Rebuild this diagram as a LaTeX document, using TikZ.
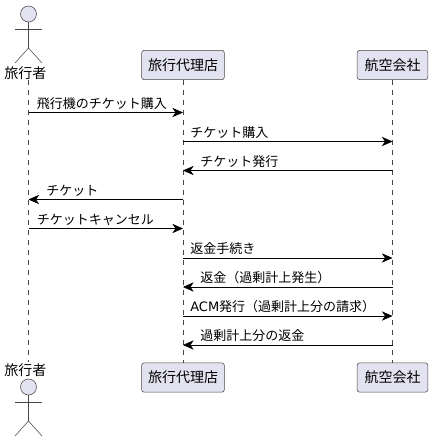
\documentclass[tikz,border=0pt]{standalone}
\usepackage{fontspec}
\setmainfont{Noto Sans CJK JP}
\newfontfamily\latinfont{DejaVu Sans}
\usetikzlibrary{calc, arrows.meta}

\definecolor{partfill}{HTML}{E2E2F0}
\definecolor{partline}{HTML}{181818}

\tikzset{
  lifeline/.style={draw=partline!80, line width=0.4pt, dash pattern=on 3.75pt off 3.75pt},
  partbox/.style={draw=partline!80, fill=partfill, line width=0.4pt, rounded corners=1.9pt,
    minimum width=62pt, minimum height=22pt, inner sep=0pt, font=\fontsize{10.5}{12}\selectfont},
  actorline/.style={draw=partline!80, line width=0.4pt},
  actorlabel/.style={inner sep=0pt, font=\fontsize{10.5}{12}\selectfont},
  msg/.style={draw=black, line width=0.5pt, -{Stealth[length=8pt, width=7pt, inset=2.4pt]}},
  msglabel/.style={inner sep=0pt, anchor=west, font=\fontsize{9.75}{12}\selectfont}
}

\begin{document}
\begin{tikzpicture}[x=0.75pt, y=-0.75pt]
  \useasboundingbox (0,0) rectangle (432,443);

  % partecipanti
  \node[actorlabel] (travelerT) at (25.5,73) {旅行者};
  \node[actorlabel] (travelerB) at (25.5,370) {旅行者};
  \node[partbox] (agencyT) at (183,65) {旅行代理店};
  \node[partbox] (agencyB) at (183,377.5) {旅行代理店};
  \node[partbox, minimum width=53pt] (airlineT) at (392.5,65) {航空会社};
  \node[partbox, minimum width=53pt] (airlineB) at (392.5,377.5) {航空会社};

  % linee di vita
  \coordinate (lifeT) at (28.5,80);
  \coordinate (lifeB) at (28.5,362);
  \draw[lifeline] (lifeT) -- (lifeB);
  \draw[lifeline] (agencyT) -- (agencyB);
  \draw[lifeline] (airlineT) -- (airlineB);

  % omini
  \foreach \name/\ytop in {top/6, bottom/379}{
    \coordinate (\name head) at (28.5,\ytop+8);
    \draw[actorline, fill=partfill] (\name head) circle (6pt);
    \draw[actorline] ($(\name head)+(0,8)$) -- ($(\name head)+(0,34)$);
    \draw[actorline] ($(\name head)+(-13.5,15.5)$) -- ($(\name head)+(13.5,15.5)$);
    \draw[actorline] ($(\name head)+(-13.5,49)$) -- ($(\name head)+(0,34)$) -- ($(\name head)+(13.5,49)$);
  }

  % punti sulle linee di vita
  \foreach \i/\y in {1/112.5, 2/141.5, 3/170.5, 4/199.5, 5/228.5, 6/258, 7/287, 8/316, 9/345}{
    \coordinate (t\i) at (28.5,\y);
    \coordinate (a\i) at (183,\y);
    \coordinate (k\i) at (392.5,\y);
  }

  % messaggi
  \draw[msg] (t1) -- (a1);
  \node[msglabel] (m1) at (36.5,103.5) {飛行機のチケット購入};
  \draw[msg] (a2) -- (k2);
  \node[msglabel] (m2) at (190,132.5) {チケット購入};
  \draw[msg] (k3) -- (a3);
  \node[msglabel] (m3) at (200,161.5) {チケット発行};
  \draw[msg] (a4) -- (t4);
  \node[msglabel] (m4) at (46,190.5) {チケット};
  \draw[msg] (t5) -- (a5);
  \node[msglabel] (m5) at (36.5,219.5) {チケットキャンセル};
  \draw[msg] (a6) -- (k6);
  \node[msglabel] (m6) at (190,249) {返金手続き};
  \draw[msg] (k7) -- (a7);
  \node[msglabel] (m7) at (200,278) {返金（過剰計上発生）};
  \draw[msg] (a8) -- (k8);
  \node[msglabel] (m8) at (190,307) {{\latinfont ACM}発行（過剰計上分の請求）};
  \draw[msg] (k9) -- (a9);
  \node[msglabel] (m9) at (200,336) {過剰計上分の返金};
\end{tikzpicture}
\end{document}
